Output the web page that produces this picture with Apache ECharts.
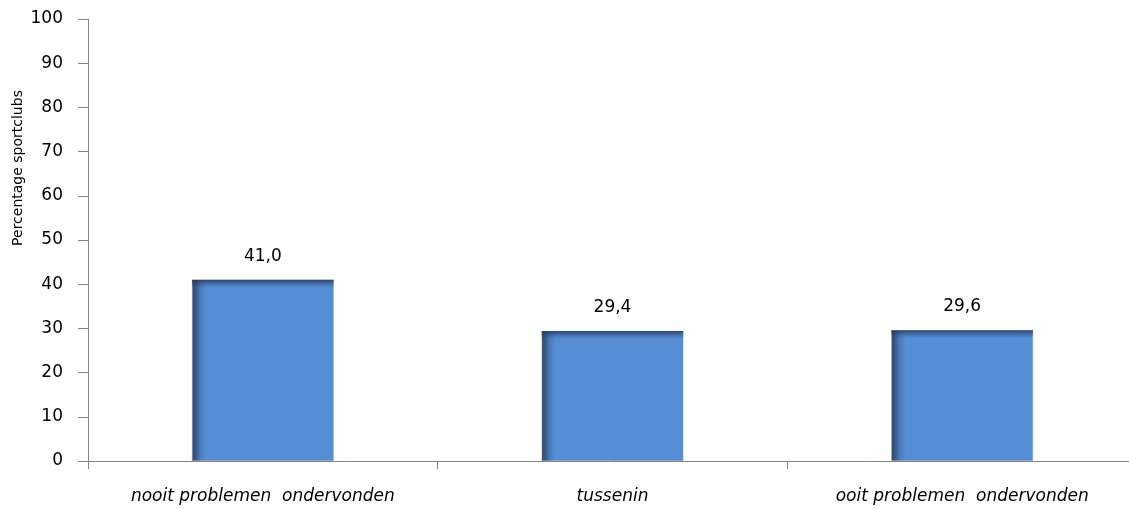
<!DOCTYPE html>
<html>
<head>
<meta charset="utf-8">
<script src="https://cdn.jsdelivr.net/npm/echarts@6/dist/echarts.min.js"></script>
<style>
html,body{margin:0;padding:0;background:#fff;}
#chart{width:1129px;height:509px;}
</style>
</head>
<body>
<div id="chart"></div>
<script>
const categories = ['nooit problemen  ondervonden', 'tussenin', 'ooit problemen  ondervonden'];
const values = [41.0, 29.4, 29.6];
const yTicks = [0, 10, 20, 30, 40, 50, 60, 70, 80, 90, 100];
const yTitle = 'Percentage sportclubs';

const FONT = '"DejaVu Sans", sans-serif';
const chart = echarts.init(document.getElementById('chart'));

const mainFill = new echarts.graphic.LinearGradient(0, 0, 1, 0, [
  {offset: 0, color: '#2a4a75'},
  {offset: 0.025, color: '#35598a'},
  {offset: 0.06, color: '#4a7dbd'},
  {offset: 0.1, color: '#558ED5'},
  {offset: 1, color: '#558ED5'}
]);

const plotHeight = 442;
const pxPerUnit = plotHeight / 100;
const topShade = values.map(v => {
  const f = Math.min(0.5, 8 / (v * pxPerUnit));
  return {
    value: v,
    itemStyle: {
      color: new echarts.graphic.LinearGradient(0, 0, 0, 1, [
        {offset: 0, color: 'rgba(30,50,85,0.8)'},
        {offset: f * 0.4, color: 'rgba(30,50,85,0.4)'},
        {offset: f, color: 'rgba(30,50,85,0)'},
        {offset: 1, color: 'rgba(30,50,85,0)'}
      ])
    }
  };
});

chart.setOption({
  animation: false,
  backgroundColor: '#fff',
  grid: {left: 88, top: 19, width: 1049, height: plotHeight, containLabel: false, outerBoundsMode: 'none'},
  xAxis: {
    type: 'category',
    data: categories,
    boundaryGap: true,
    axisLine: {lineStyle: {color: '#868686', width: 1}},
    axisTick: {show: true, length: 8, lineStyle: {color: '#868686'}},
    axisLabel: {
      interval: 0,
      margin: 27,
      fontFamily: FONT,
      fontStyle: 'italic',
      fontSize: 17,
      color: '#000'
    },
    splitLine: {show: false}
  },
  yAxis: {
    type: 'value',
    min: 0,
    max: 100,
    interval: 10,
    axisLine: {show: true, lineStyle: {color: '#868686', width: 1}},
    axisTick: {show: true, length: 10, lineStyle: {color: '#868686'}},
    axisLabel: {
      margin: 25,
      fontFamily: FONT,
      fontSize: 17,
      color: '#000',
      formatter: v => (yTicks.indexOf(v) >= 0 ? String(v) : '')
    },
    splitLine: {show: false}
  },
  graphic: [{
    type: 'text',
    x: 18,
    y: 168,
    rotation: Math.PI / 2,
    style: {
      text: yTitle,
      fontFamily: FONT,
      fontSize: 14,
      fill: '#000',
      textAlign: 'center',
      textVerticalAlign: 'middle'
    }
  }],
  series: [
    {
      type: 'bar',
      data: values,
      barWidth: '40.5%',
      itemStyle: {color: mainFill, borderColor: '#9a9a9a', borderWidth: 0.5},
      label: {
        show: true,
        position: 'top',
        distance: 15,
        fontFamily: FONT,
        fontSize: 17,
        color: '#000',
        formatter: p => p.value.toFixed(1).replace('.', ',')
      },
      z: 2
    },
    {
      type: 'bar',
      data: topShade,
      barWidth: '40.5%',
      barGap: '-100%',
      silent: true,
      label: {show: false},
      z: 3
    }
  ]
});
</script>
</body>
</html>
